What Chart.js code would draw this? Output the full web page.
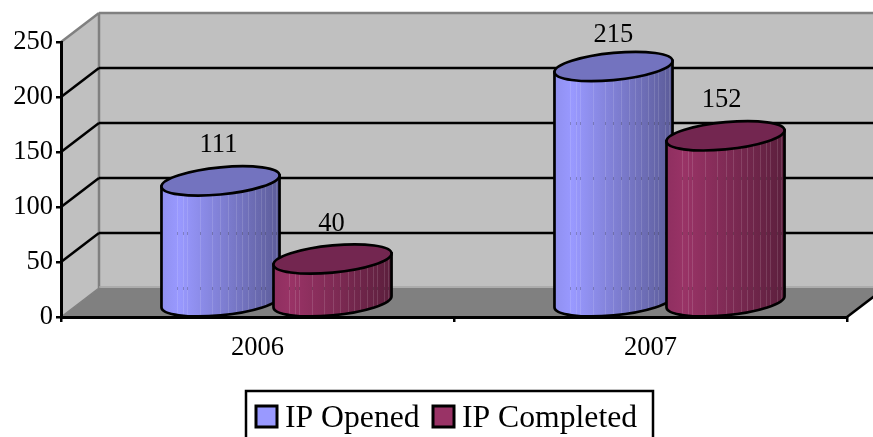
<!DOCTYPE html>
<html>
<head>
<meta charset="utf-8">
<style>
  html, body { margin: 0; padding: 0; background: #fff; overflow: hidden; }
  #wrap { width: 873px; height: 437px; }
</style>
<script src="https://cdn.jsdelivr.net/npm/chart.js@4"></script>
</head>
<body>
<div id="wrap"><canvas id="chart" width="873" height="437"></canvas></div>
<script>
const categories = ['2006', '2007'];
const seriesNames = ['IP Opened', 'IP Completed'];
const ipOpened = [111, 215];
const ipCompleted = [40, 152];
const yTicks = [0, 50, 100, 150, 200, 250];

const fontName = '"Liberation Serif", "Times New Roman", serif';

// 3D look: how far the back wall sits from the front plane
const depthX = 38;
const depthY = 29;
const midDepthY = 14;   // cylinders stand half way into the floor
const tilt = 5.5;       // the ellipses lean up to the right
const ellipseH = 13.6;

// side colours of each series: left edge, brightest, right edge, top cap
const cylinderColors = [
  { edge: '#9090f0', light: '#9999ff', dark: '#5c5c99', cap: '#7373bf' },
  { edge: '#8f2f60', light: '#993366', dark: '#5c1f3d', cap: '#732650' }
];
// the thin lighter stripes on the cylinders, as fraction of the width
const stripes = [.13, .18, .22, .33, .43, .5, .56, .63, .68, .73, .79, .84, .88, .94, .97];

// small hand nudges of the value labels [series][category] -> [dx, dy]
const labelNudge = [
  [[-1, -1], [1, 4]],
  [[0, 0], [-3, -1]]
];

function line(ctx, x1, y1, x2, y2) {
  ctx.beginPath();
  ctx.moveTo(x1, y1);
  ctx.lineTo(x2, y2);
  ctx.stroke();
}

function poly(ctx, pts, fill) {
  ctx.beginPath();
  pts.forEach((p, i) => i ? ctx.lineTo(p[0], p[1]) : ctx.moveTo(p[0], p[1]));
  ctx.closePath();
  ctx.fillStyle = fill;
  ctx.fill();
}

// Walls, floor and gridlines behind the bars
const wallsPlugin = {
  id: 'walls',
  beforeDraw(chart) {
    const ctx = chart.ctx;
    const { left, right, top, bottom } = chart.chartArea;
    const y = chart.scales.y;
    ctx.save();

    poly(ctx, [[left + depthX, top - depthY], [right + depthX, top - depthY], [right + depthX, bottom - depthY], [left + depthX, bottom - depthY]], '#c0c0c0');
    poly(ctx, [[left, top], [left + depthX, top - depthY], [left + depthX, bottom - depthY], [left, bottom]], '#c0c0c0');
    poly(ctx, [[left, bottom], [left + depthX, bottom - depthY], [right + depthX, bottom - depthY], [right, bottom]], '#808080');

    // gray outlines of the walls
    ctx.strokeStyle = '#808080';
    ctx.lineWidth = 2.5;
    line(ctx, left, top, left + depthX, top - depthY);
    line(ctx, left + depthX, top - depthY, right + depthX, top - depthY);
    line(ctx, left + depthX, top - depthY, left + depthX, bottom - depthY);
    ctx.lineWidth = 1.5;
    line(ctx, left, bottom, left + depthX, bottom - depthY);
    ctx.strokeStyle = '#a6a6a6';
    line(ctx, left + depthX, bottom - depthY - 1, right + depthX, bottom - depthY - 1);

    // gridlines, front wall side then back wall
    ctx.strokeStyle = '#000';
    ctx.lineWidth = 2.5;
    yTicks.slice(1, -1).forEach(v => {
      const py = y.getPixelForValue(v);
      line(ctx, left, py, left + depthX, py - depthY);
      line(ctx, left + depthX, py - depthY, right + depthX, py - depthY);
    });
    // right edge of the floor
    line(ctx, right, bottom, right + depthX, bottom - depthY);
    ctx.restore();
  }
};

function drawCylinder(ctx, bar, colors, yScale) {
  const cx = bar.x + depthX / 2;
  const a = bar.width / 2;
  const topY = bar.y - midDepthY;
  const baseY = bar.base - midDepthY;
  const x0 = cx - a;
  const x1 = cx + a;

  // the side of the cylinder: left edge, lower half of the base, right edge, cap
  const sidePath = () => {
    ctx.beginPath();
    ctx.moveTo(x0, topY + tilt);
    ctx.lineTo(x0, baseY + tilt);
    ctx.save();
    ctx.transform(1, -tilt / a, 0, 1, cx, baseY);
    ctx.ellipse(0, 0, a, ellipseH, 0, Math.PI, 0, true);
    ctx.restore();
    ctx.lineTo(x1, topY - tilt);
    ctx.closePath();
  };

  const grad = ctx.createLinearGradient(x0, 0, x1, 0);
  grad.addColorStop(0, colors.edge);
  grad.addColorStop(0.15, colors.light);
  grad.addColorStop(1, colors.dark);
  sidePath();
  ctx.fillStyle = grad;
  ctx.fill();

  // stripes and the gridlines that bleed through them
  ctx.save();
  sidePath();
  ctx.clip();
  stripes.forEach(f => {
    const sx = Math.round(x0 + f * bar.width);
    ctx.fillStyle = 'rgba(255,255,255,0.13)';
    ctx.fillRect(sx, topY - 20, 1, baseY - topY + 40);
    ctx.fillStyle = 'rgba(0,0,0,0.22)';
    yTicks.forEach(v => {
      const gy = yScale.getPixelForValue(v) - depthY;
      if (gy > topY + 16) ctx.fillRect(sx, gy - 1, 1, 3);
    });
  });
  ctx.restore();

  ctx.strokeStyle = '#000';
  ctx.lineWidth = 2.7;
  sidePath();
  ctx.stroke();

  // top cap
  ctx.save();
  ctx.transform(1, -tilt / a, 0, 1, cx, topY);
  ctx.beginPath();
  ctx.ellipse(0, 0, a, ellipseH, 0, 0, Math.PI * 2);
  ctx.restore();
  ctx.fillStyle = colors.cap;
  ctx.fill();
  ctx.stroke();
}

const cylindersPlugin = {
  id: 'cylinders',
  afterDatasetsDraw(chart) {
    const ctx = chart.ctx;
    const metas = chart.data.datasets.map((d, i) => chart.getDatasetMeta(i));
    ctx.save();
    categories.forEach((c, i) => {
      metas.forEach((m, s) => drawCylinder(ctx, m.data[i], cylinderColors[s], chart.scales.y));
    });
    // value labels
    ctx.fillStyle = '#000';
    ctx.font = '26.5px ' + fontName;
    ctx.textAlign = 'center';
    ctx.textBaseline = 'middle';
    categories.forEach((c, i) => {
      metas.forEach((m, s) => {
        const bar = m.data[i];
        const nudge = labelNudge[s][i];
        ctx.fillText(String(chart.data.datasets[s].data[i]), bar.x + depthX / 2 - 1 + nudge[0], bar.y - midDepthY - 35 + nudge[1]);
      });
    });
    ctx.restore();
  }
};

// Legend box, the bottom border runs off the canvas like in the original
const legendBoxPlugin = {
  id: 'legendBox',
  afterDraw(chart) {
    const ctx = chart.ctx;
    const swatchX = [256, 433];
    const textX = [285, 462];
    ctx.save();
    ctx.fillStyle = '#fff';
    ctx.strokeStyle = '#000';
    ctx.lineWidth = 2.5;
    ctx.fillRect(246, 391, 407, 50);
    ctx.strokeRect(246, 391, 407, 50);
    chart.data.datasets.forEach((d, i) => {
      ctx.fillStyle = cylinderColors[i].light;
      ctx.fillRect(swatchX[i], 406, 21, 21);
      ctx.lineWidth = 3;
      ctx.strokeRect(swatchX[i], 406, 21, 21);
      ctx.fillStyle = '#000';
      ctx.font = '31.7px ' + fontName;
      ctx.textAlign = 'left';
      ctx.textBaseline = 'alphabetic';
      ctx.fillText(d.label, textX[i], 427);
    });
    ctx.restore();
  }
};

new Chart(document.getElementById('chart'), {
  type: 'bar',
  data: {
    labels: categories,
    datasets: [
      { label: seriesNames[0], data: ipOpened, backgroundColor: 'transparent' },
      { label: seriesNames[1], data: ipCompleted, backgroundColor: 'transparent' }
    ]
  },
  plugins: [wallsPlugin, cylindersPlugin, legendBoxPlugin],
  options: {
    responsive: false,
    animation: false,
    categoryPercentage: 0.57,
    barPercentage: 1.054,
    layout: { padding: { left: 0, right: 26, top: 42, bottom: 0 } },
    plugins: { legend: { display: false }, tooltip: { enabled: false } },
    scales: {
      x: {
        afterFit: scale => { scale.height = 120; },
        grid: { offset: true, drawOnChartArea: false, color: '#000', lineWidth: 2.5, tickLength: 5 },
        border: { color: '#000', width: 3 },
        ticks: { color: '#000', padding: 10, maxRotation: 0, font: { family: fontName, size: 26.5 } }
      },
      y: {
        min: 0,
        max: 250,
        afterFit: scale => { scale.width = 61; },
        afterBuildTicks: scale => { scale.ticks = yTicks.map(v => ({ value: v })); },
        grid: { drawOnChartArea: false, color: '#000', lineWidth: 2.5, tickLength: 5 },
        border: { color: '#000', width: 3 },
        ticks: { color: '#000', padding: 3, font: { family: fontName, size: 26.5 } }
      }
    }
  }
});
</script>
</body>
</html>
